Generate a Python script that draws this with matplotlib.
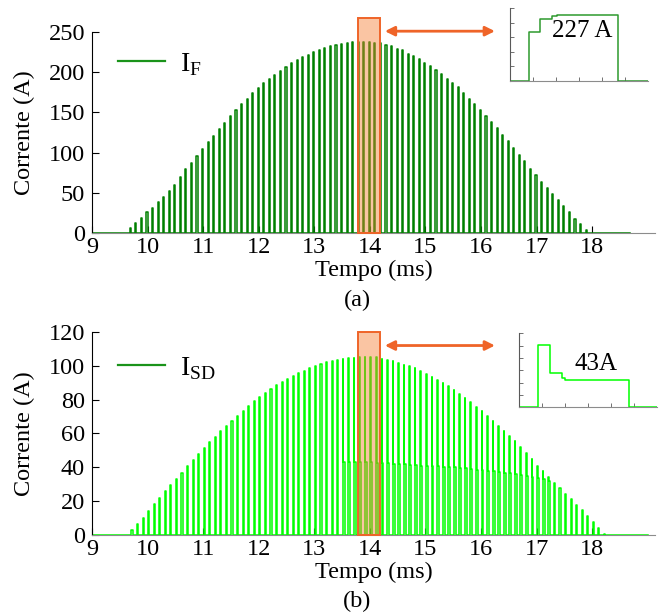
import numpy as np
import matplotlib.pyplot as plt
from matplotlib.lines import Line2D
from matplotlib.patches import Rectangle

plt.rcParams['font.family'] = 'Liberation Serif'
plt.rcParams['mathtext.fontset'] = 'custom'
plt.rcParams['mathtext.rm'] = 'Liberation Serif'
plt.rcParams['font.size'] = 17.5

# switching period and first pulse of each waveform (ms)
period = 0.1
if_t0 = 9.68
isd_t0 = 9.71

# peak of every I_F pulse (A)
if_peaks = [6, 12, 19, 26, 31, 38, 45, 52, 60, 70,
            79, 87, 96, 104, 113, 121, 129, 137, 145, 153,
            160, 167, 174, 180, 186, 192, 197, 202, 207, 211,
            215, 219, 222, 225, 228, 230, 232, 234, 235, 236,
            237, 238, 237, 237, 236, 236, 234, 232, 229, 227,
            223, 220, 216, 212, 208, 203, 198, 192, 187, 181,
            174, 167, 160, 153, 145, 138, 131, 122, 114, 106,
            97, 89, 80, 72, 64, 56, 48, 41, 33, 26,
            18, 11, 4]

# spike of every I_SD pulse (A)
isd_peaks = [3, 6.5, 10, 14.4, 18.3, 22, 25.8, 29.6, 33, 36.6,
             40.6, 44.3, 47.7, 51.6, 55, 58, 61.5, 64.5, 67.5, 70.5,
             73.5, 76.3, 79, 81.4, 84, 86.3, 88.6, 90.6, 92.5, 94.1,
             95.7, 97.1, 98.7, 100, 101, 102, 102.8, 103.4, 104, 104.4,
             104.8, 105, 105, 105, 105, 104, 103.4, 102.6, 101.7, 100.7,
             99.7, 98.5, 96.7, 95.2, 93.6, 91.8, 90, 88, 85.9, 83.3,
             81, 78.4, 75.8, 73, 70.3, 67.6, 64.6, 61.7, 58.7, 55.4,
             52.2, 48.3, 44.9, 41, 38, 34, 30.5, 27.5, 24.5, 21.5,
             18, 14.5, 11, 7.5, 4, 0.8]

# I_SD level after the spike, pulses 38..76 (A)
isd_plateau_first = 38
isd_plateau = [43, 43, 43, 43, 43, 43, 42.8, 42.5, 42.3, 42,
               42, 41.7, 41.5, 41.3, 41, 41, 40.8, 40.6, 40.4, 40.2,
               40, 39.6, 39.3, 39, 38.7, 38.3, 38, 37.6, 37.2, 36.8,
               36.4, 36, 35.5, 35, 34.4, 33.8, 33, 32, 30.5]

x_ticks = list(range(9, 19))
if_ticks = [0, 50, 100, 150, 200, 250]
isd_ticks = [0, 20, 40, 60, 80, 100, 120]

# single pulse in the zoom boxes: edge times (us) and levels (A)
if_zoom_t = [0, 8.3, 13.0, 18.1, 20.3, 46.8, 60]
if_zoom_y = [0, 167, 212, 223, 227, 0, 0]
isd_zoom_t = [0, 8.3, 13.4, 18.5, 19.9, 47.7, 60]
isd_zoom_y = [0, 101.6, 55.8, 46.8, 44, 0, 0]

dark_green = '#008000'
lime = '#00ff00'
legend_green = '#1a931a'
orange = '#ef6428'


def pulse_train(t0, pulses, t_end, t_begin=9.0):
    # pulses: list of [(level, duration), ...] for each switching period
    t, y = [t_begin], [0.0]
    for k, segs in enumerate(pulses):
        ts = t0 + k * period
        t.append(ts)
        y.append(0.0)
        for lv, dur in segs:
            t += [ts, ts + dur]
            y += [lv, lv]
            ts += dur
        t.append(ts)
        y.append(0.0)
    t.append(t_end)
    y.append(0.0)
    return np.array(t), np.array(y)


on_time = 0.02
spike_time = 0.01
plateau_time = 0.024

if_pulses = [[(v, on_time)] for v in if_peaks]
isd_pulses = []
for k, v in enumerate(isd_peaks):
    j = k - isd_plateau_first
    if 0 <= j < len(isd_plateau) and isd_plateau[j] < v:
        isd_pulses.append([(v, spike_time), (isd_plateau[j], plateau_time)])
    else:
        isd_pulses.append([(v, on_time)])

t_if, y_if = pulse_train(if_t0, if_pulses, 18.68)
t_isd, y_isd = pulse_train(isd_t0, isd_pulses, 19.0)

fig = plt.figure(figsize=(6.6, 6.14), dpi=100)
ax1 = fig.add_axes([0.1394, 0.6205, 0.853, 0.3274])
ax2 = fig.add_axes([0.1394, 0.1287, 0.853, 0.3306])


def style_axis(ax, yticks, ymax):
    ax.set_xlim(9, 19.13)
    ax.set_ylim(0, ymax)
    ax.set_xticks(x_ticks)
    ax.set_yticks(yticks)
    ax.spines['top'].set_visible(False)
    ax.spines['right'].set_visible(False)
    ax.spines['bottom'].set_color('0.55')
    ax.tick_params(direction='in', length=5, width=0.8, labelsize=17.5)
    ax.tick_params(axis='x', pad=3)
    ax.tick_params(axis='y', pad=5)
    ax.set_ylabel('Corrente (A)', fontsize=17.5, labelpad=10)
    ax.set_xlabel('Tempo (ms)', fontsize=17.5, labelpad=1)


ax1.plot(t_if, y_if, color=dark_green, lw=1.1)
style_axis(ax1, if_ticks, 250)
ax2.plot(t_isd, y_isd, color=lime, lw=1.1)
style_axis(ax2, isd_ticks, 120)

ax1.legend([Line2D([], [], color=legend_green, lw=1.6)], ['I$_\\mathregular{F}$'],
           loc='center left', bbox_to_anchor=(0.046, 0.84), frameon=False,
           fontsize=20, handlelength=1.7, handletextpad=0.55,
           borderpad=0, borderaxespad=0)
ax2.legend([Line2D([], [], color=legend_green, lw=1.6)], ['I$_\\mathregular{SD}$'],
           loc='center left', bbox_to_anchor=(0.046, 0.82), frameon=False,
           fontsize=20, handlelength=1.7, handletextpad=0.55,
           borderpad=0, borderaxespad=0)

# highlighted pulse and arrow towards the zoom box
for ax, top, arrow_y in [(ax1, 267, 251), (ax2, 120, 112)]:
    ax.add_patch(Rectangle((13.78, 0), 0.4, top, facecolor=(0.96, 0.5, 0.2, 0.45),
                           edgecolor=orange, lw=1.4, clip_on=False, zorder=3))
    ax.annotate('', xy=(16.25, arrow_y), xytext=(14.27, arrow_y),
                arrowprops=dict(arrowstyle='<|-|>', color=orange, lw=2,
                                mutation_scale=14, shrinkA=0, shrinkB=0),
                annotation_clip=False)

fig.text(0.541, 0.510, '(a)', ha='center', va='center', fontsize=17.5)
fig.text(0.541, 0.02, '(b)', ha='center', va='center', fontsize=17.5)

# zoom boxes
in1 = fig.add_axes([0.7727, 0.8681, 0.209, 0.1189])
in1.plot(if_zoom_t, if_zoom_y, drawstyle='steps-post', color='#2e9a2e', lw=1.1)
in1.set_ylim(0, 250)
in1.set_yticks([0, 50, 100, 150, 200, 250])
in1.text(31.2, 171, '227 A', ha='center', va='center', fontsize=18)

in2 = fig.add_axes([0.7864, 0.3366, 0.209, 0.1205])
in2.plot(isd_zoom_t, isd_zoom_y, drawstyle='steps-post', color=lime, lw=1.1)
in2.set_ylim(0, 120)
in2.set_yticks([0, 20, 40, 60, 80, 100, 120])
in2.text(33.6, 70, '43A', ha='center', va='center', fontsize=18)

for ax in (in1, in2):
    ax.set_xlim(0, 60)
    ax.set_xticks([10, 20, 30, 40, 50])
    ax.patch.set_alpha(0)
    ax.spines['top'].set_visible(False)
    ax.spines['right'].set_visible(False)
    ax.spines['left'].set_color('0.35')
    ax.spines['bottom'].set_color('0.55')
    ax.tick_params(direction='in', length=3, width=0.6, color='0.35',
                   labelleft=False, labelbottom=False)

fig.savefig('out.png', dpi=100)
